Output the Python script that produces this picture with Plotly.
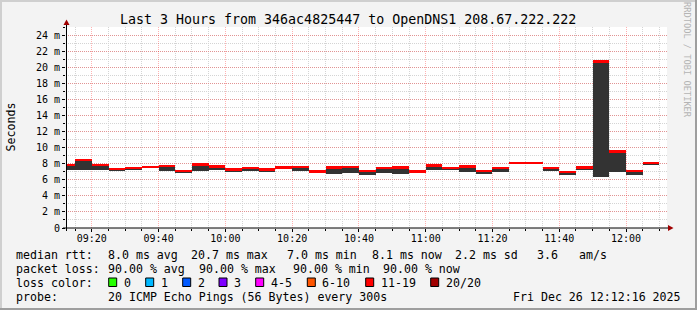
import plotly.graph_objects as go

# ---------------- data ----------------
day = "2025-12-26"
interval_start = ["09:10", "09:15", "09:20", "09:25", "09:30", "09:35", "09:40", "09:45", "09:50", "09:55",
                  "10:00", "10:05", "10:10", "10:15", "10:20", "10:25", "10:30", "10:35", "10:40", "10:45",
                  "10:50", "10:55", "11:00", "11:05", "11:10", "11:15", "11:20", "11:25", "11:30", "11:35",
                  "11:40", "11:45", "11:50", "11:55", "12:00", "12:05"]
median_ms = [7.83, 8.43, 7.85, 7.37, 7.49, 7.61, 7.74, 7.12, 7.88, 7.64,
             7.30, 7.47, 7.26, 7.55, 7.59, 7.02, 7.50, 7.60, 7.12, 7.48,
             7.50, 7.02, 7.79, 7.46, 7.65, 7.12, 7.49, 8.10, 8.10, 7.45,
             6.98, 7.50, 20.70, 9.52, 7.12, 8.09]
low_ms = [7.19, 7.25, 7.17, 7.17, 7.20, 7.52, 7.10, 6.92, 7.04, 7.17,
          6.94, 7.15, 6.91, 7.28, 7.10, 6.98, 6.77, 6.88, 6.55, 6.83,
          6.68, 6.98, 7.17, 7.33, 6.92, 6.66, 6.92, 8.00, 8.00, 7.04,
          6.65, 7.18, 6.40, 7.02, 6.65, 7.82]
ytick_vals = [0, 2, 4, 6, 8, 10, 12, 14, 16, 18, 20, 22, 24]
ytick_text = ["0", "2 m", "4 m", "6 m", "8 m", "10 m", "12 m", "14 m", "16 m", "18 m", "20 m", "22 m", "24 m"]
loss_labels = ["0", "1", "2", "3", "4-5", "6-10", "11-19", "20/20"]
loss_colors = ["#26ff00", "#00b8ff", "#0059ff", "#7e00ff", "#ff00ff", "#ff5500", "#ff0000", "#a10000"]

title = "Last 3 Hours from 346ac4825447 to OpenDNS1 208.67.222.222"
# ---------------- layout geometry ----------------
W, H = 697, 310
L, R, T, B = 66, 667, 27, 228
FONT = "DejaVu Sans Mono"

def px(x):
    return (x - L) / (R - L)

def py(y):
    return (B - y) / (B - T)

xs = [f"{day} {t}:00" for t in interval_start]
smoke_h = [m - l for m, l in zip(median_ms, low_ms)]
band = 0.3
med_base = [m - band / 2 for m in median_ms]

fig = go.Figure()
fig.add_trace(go.Bar(x=xs, y=smoke_h, base=low_ms, width=300000, offset=0,
                     marker=dict(color="#333333", line=dict(width=0)), hoverinfo="skip"))
fig.add_trace(go.Bar(x=xs, y=[band] * len(xs), base=med_base, width=300000, offset=0,
                     marker=dict(color="#ff0000", line=dict(width=0)), hoverinfo="skip"))

fig.update_layout(
    width=W, height=H, barmode="overlay", showlegend=False,
    margin=dict(l=L, r=W - R, t=T, b=H - B, pad=0),
    paper_bgcolor="#f3f3f3", plot_bgcolor="#ffffff",
    font=dict(family=FONT, size=10, color="#000000"),
    bargap=0,
)
fig.update_xaxes(
    type="date", range=[f"{day} 09:12:16", f"{day} 12:12:16"],
    tick0=f"{day} 09:20", dtick=20 * 60 * 1000, tickformat="%H:%M",
    showgrid=True, gridcolor="rgba(255,0,0,0.3)", griddash="1px,1px", gridwidth=1,
    ticks="outside", ticklen=3, tickcolor="#000", showline=False, zeroline=False,
    ticklabelstandoff=-2,
    minor=dict(dtick=5 * 60 * 1000, tick0=f"{day} 09:20", showgrid=True, gridcolor="#d4d4d4",
               griddash="1px,1px", ticks="outside", ticklen=2, tickcolor="#000"),
    tickfont=dict(family=FONT, size=10),
)
fig.update_yaxes(
    range=[0, 25], tickvals=ytick_vals, ticktext=ytick_text,
    showgrid=True, gridcolor="rgba(255,0,0,0.3)", griddash="1px,1px",
    ticks="outside", ticklen=3, tickcolor="#000", showline=False, zeroline=False,
    minor=dict(dtick=1, showgrid=True, gridcolor="#d4d4d4", griddash="1px,1px",
               ticks="outside", ticklen=2, tickcolor="#000"),
    tickfont=dict(family=FONT, size=10),
)

shapes = []
# axes lines
shapes.append(dict(type="line", xref="paper", yref="paper", x0=px(63), x1=px(670), y0=py(228), y1=py(228),
                   line=dict(color="#000", width=1)))
shapes.append(dict(type="line", xref="paper", yref="paper", x0=px(66.5), x1=px(66.5), y0=py(231), y1=py(24),
                   line=dict(color="#000", width=1)))
# arrowheads
shapes.append(dict(type="path", xref="paper", yref="paper",
                   path=f"M {px(668)} {py(225)} L {px(673.5)} {py(228)} L {px(668)} {py(231)} Z",
                   fillcolor="#a00000", line=dict(width=0)))
shapes.append(dict(type="path", xref="paper", yref="paper",
                   path=f"M {px(63.5)} {py(25)} L {px(66.5)} {py(19.5)} L {px(69.5)} {py(25)} Z",
                   fillcolor="#a00000", line=dict(width=0)))
# frame
shapes.append(dict(type="rect", xref="paper", yref="paper", x0=px(0), x1=px(697), y0=py(0), y1=py(2),
                   fillcolor="#cfcfcf", line=dict(width=0)))
shapes.append(dict(type="rect", xref="paper", yref="paper", x0=px(0), x1=px(2), y0=py(0), y1=py(310),
                   fillcolor="#cfcfcf", line=dict(width=0)))
shapes.append(dict(type="rect", xref="paper", yref="paper", x0=px(0), x1=px(697), y0=py(308), y1=py(310),
                   fillcolor="#9e9e9e", line=dict(width=0)))
shapes.append(dict(type="rect", xref="paper", yref="paper", x0=px(695), x1=px(697), y0=py(0), y1=py(310),
                   fillcolor="#9e9e9e", line=dict(width=0)))

annotations = []

def txt(x, y, s, size=11.6, color="#000", anchor="left", angle=0):
    annotations.append(dict(xref="paper", yref="paper", x=px(x), y=py(y), text=s.replace(" ", "\u00a0"),
                            showarrow=False, xanchor=anchor, yanchor="middle", borderpad=0,
                            textangle=angle, font=dict(family=FONT, size=size, color=color)))

txt(347.5, 19.5, title, size=13.3, anchor="center")
txt(10, 127.5, "Seconds", size=11.6, anchor="center", angle=-90)
txt(687, 60, "RRDTOOL / TOBI OETIKER", size=8.7, color="#b4b4b4", anchor="center", angle=90)

rows_y = [255, 269, 283, 296.5]
txt(15, rows_y[0], "median rtt:")
for x, s in [(106.5, "8.0 ms avg"), (190, "20.7 ms max"), (285.7, "7.0 ms min"), (371.3, "8.1 ms now"),
             (454, "2.2 ms sd"), (535.7, "3.6"), (578.3, "am/s")]:
    txt(x, rows_y[0], s)
txt(15, rows_y[1], "packet loss:")
for x, s in [(106.5, "90.00 % avg"), (198.3, "90.00 % max"), (291.7, "90.00 % min"), (382.3, "90.00 % now")]:
    txt(x, rows_y[1], s)
txt(15, rows_y[2], "loss color:")
box_x = [108.7, 145.7, 182.7, 219, 255.7, 307.3, 365.7, 430.7]
for bx, lab, col in zip(box_x, loss_labels, loss_colors):
    shapes.append(dict(type="rect", xref="paper", yref="paper", x0=px(bx), x1=px(bx + 8), y0=py(278), y1=py(286.5),
                       fillcolor=col, line=dict(color="#000", width=1)))
    txt(bx + 14, rows_y[2], lab)
txt(15, rows_y[3], "probe:")
txt(106.5, rows_y[3], "20 ICMP Echo Pings (56 Bytes) every 300s")
txt(512.3, rows_y[3], "Fri Dec 26 12:12:16 2025")

fig.update_layout(shapes=shapes, annotations=annotations)
fig.write_html("out.html")
